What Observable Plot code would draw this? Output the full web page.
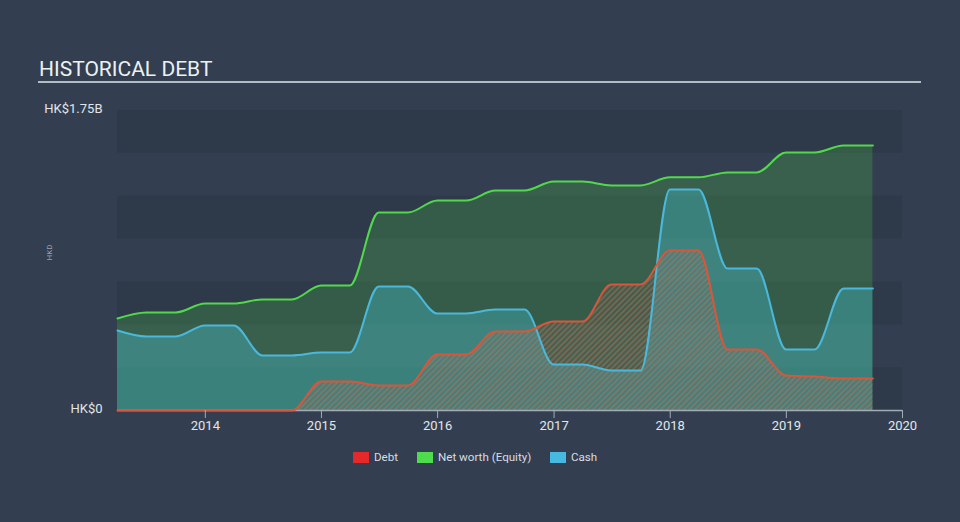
<!DOCTYPE html>
<html>
<head>
<meta charset="utf-8">
<script src="https://cdn.jsdelivr.net/npm/d3@7"></script>
<script src="https://cdn.jsdelivr.net/npm/@observablehq/plot@0.6"></script>
<style>
  html, body { margin: 0; padding: 0; background: #333f50; }
  #wrap { position: relative; width: 960px; height: 522px; overflow: hidden; font-family: Roboto, "Open Sans", sans-serif; }
  #title { position: absolute; left: 39px; top: 57px; font-size: 21px; color: #eef0f2; letter-spacing: 0px; }
  #rule { position: absolute; left: 38px; top: 81px; width: 883px; height: 2px; background: #b4bcc4; }
  #legend { position: absolute; top: 450px; left: 0; width: 960px; height: 16px; font-size: 11.6px; color: #d8dde2; }
  .item { position: absolute; top: 0; display: flex; align-items: center; height: 14px; }
  .sw { width: 16px; height: 11px; margin-right: 5px; }
  #chart { position: absolute; left: 0; top: 0; }
</style>
</head>
<body>
<div id="wrap">
  <div id="chart"></div>
  <div id="title">HISTORICAL DEBT</div>
  <div id="rule"></div>
  <div id="legend"></div>
</div>
<script>
// Quarter-end dates
const dates = [
  "2013-03-31","2013-06-30","2013-09-30","2013-12-31",
  "2014-03-31","2014-06-30","2014-09-30","2014-12-31",
  "2015-03-31","2015-06-30","2015-09-30","2015-12-31",
  "2016-03-31","2016-06-30","2016-09-30","2016-12-31",
  "2017-03-31","2017-06-30","2017-09-30","2017-12-31",
  "2018-03-31","2018-06-30","2018-09-30","2018-12-31",
  "2019-03-31","2019-06-30","2019-09-30"
];
// Values in HK$ billions
const debt = [
  0, 0, 0, 0,
  0, 0, 0, 0.169,
  0.169, 0.146, 0.146, 0.327,
  0.327, 0.461, 0.461, 0.519,
  0.519, 0.735, 0.735, 0.933,
  0.933, 0.356, 0.356, 0.204,
  0.198, 0.187, 0.187
];
const equity = [
  0.537, 0.572, 0.572, 0.624,
  0.624, 0.648, 0.648, 0.729,
  0.729, 1.155, 1.155, 1.225,
  1.225, 1.283, 1.283, 1.336,
  1.336, 1.313, 1.313, 1.360,
  1.360, 1.389, 1.389, 1.505,
  1.505, 1.546, 1.546
];
const cash = [
  0.467, 0.432, 0.432, 0.496,
  0.496, 0.321, 0.321, 0.338,
  0.338, 0.723, 0.723, 0.566,
  0.566, 0.589, 0.589, 0.268,
  0.268, 0.233, 0.233, 1.289,
  1.289, 0.828, 0.828, 0.356,
  0.356, 0.712, 0.712
];
const tickYears = [2014, 2015, 2016, 2017, 2018, 2019, 2020];
const yTicks = [0, 1.75];
const yTickLabels = ["HK$0", "HK$1.75B"];
const seriesNames = ["Debt", "Net worth (Equity)", "Cash"];
const seriesColors = ["#e5292b", "#4fdc4c", "#47b8df"];

const data = dates.map((d, i) => ({date: new Date(d), debt: debt[i], equity: equity[i], cash: cash[i]}));

const xDomain = [new Date("2013-03-31"), new Date("2020-01-01")];
const bandEdges = d3.range(0, 1.75, 0.25);
const bands = bandEdges.filter((v, i) => i % 2 === 0).map(v => ({y1: v, y2: v + 0.25}));

const chart = Plot.plot({
  width: 960,
  height: 522,
  marginLeft: 117,
  marginRight: 58,
  marginTop: 110,
  marginBottom: 112,
  style: {background: "transparent", fontFamily: "Roboto, sans-serif", overflow: "visible"},
  x: {type: "utc", domain: xDomain},
  y: {domain: [0, 1.75]},
  marks: [
    Plot.rect(bands, {x1: () => xDomain[0], x2: () => xDomain[1], y1: "y1", y2: "y2", fill: "#000", fillOpacity: 0.085}),
    Plot.areaY(data, {x: "date", y: "equity", curve: "monotone-x", fill: "#46a34a", fillOpacity: 0.33}),
    Plot.areaY(data, {x: "date", y: "cash", curve: "monotone-x", fill: "#45b4c0", fillOpacity: 0.42}),
    Plot.areaY(data, {x: "date", y: "debt", curve: "monotone-x", fill: "url(#hatch)"}),
    Plot.ruleY([0], {stroke: "#a3acb6", strokeWidth: 1.5}),
    Plot.lineY(data, {x: "date", y: "equity", curve: "monotone-x", stroke: "#52d84c", strokeWidth: 2}),
    Plot.lineY(data, {x: "date", y: "cash", curve: "monotone-x", stroke: "#4ab8dc", strokeWidth: 2}),
    Plot.lineY(data, {x: "date", y: "debt", curve: "monotone-x", stroke: "#d9563a", strokeWidth: 2}),
    Plot.axisX({
      ticks: tickYears.map(y => new Date(Date.UTC(y, 0, 1))),
      tickFormat: d => String(d.getUTCFullYear()),
      tickSize: 8, tickPadding: 2, stroke: "#a3acb6", fill: "#e2e6ea", fontSize: 13, label: null
    }),
    Plot.axisY({
      ticks: yTicks,
      tickFormat: (d, i) => yTickLabels[yTicks.indexOf(d)],
      tickSize: 0, tickPadding: 15, fill: "#e2e6ea", fontSize: 13, dy: -2, label: null
    }),
    Plot.text(["HKD"], {frameAnchor: "left", dx: -68, rotate: -90, fill: "#9aa3ad", fontSize: 8})
  ]
});

// hatch pattern for the debt area
const svg = d3.select(chart);
const defs = svg.insert("defs", ":first-child");
const pat = defs.append("pattern")
  .attr("id", "hatch")
  .attr("patternUnits", "userSpaceOnUse")
  .attr("width", 4).attr("height", 4)
  .attr("patternTransform", "rotate(45)");
pat.append("rect").attr("width", 4).attr("height", 4).attr("fill", "#a07060").attr("fill-opacity", 0.1);
pat.append("line").attr("x1", 1).attr("y1", 0).attr("x2", 1).attr("y2", 4)
  .attr("stroke", "#c9705a").attr("stroke-width", 1.3).attr("stroke-opacity", 0.6);

document.getElementById("chart").appendChild(chart);

// legend
const legendX = [353, 417, 550];
const legend = document.getElementById("legend");
seriesNames.forEach((name, i) => {
  const it = document.createElement("div");
  it.className = "item";
  it.style.left = legendX[i] + "px";
  const sw = document.createElement("div");
  sw.className = "sw";
  sw.style.background = seriesColors[i];
  const t = document.createElement("span");
  t.textContent = name;
  it.appendChild(sw);
  it.appendChild(t);
  legend.appendChild(it);
});
</script>
</body>
</html>
